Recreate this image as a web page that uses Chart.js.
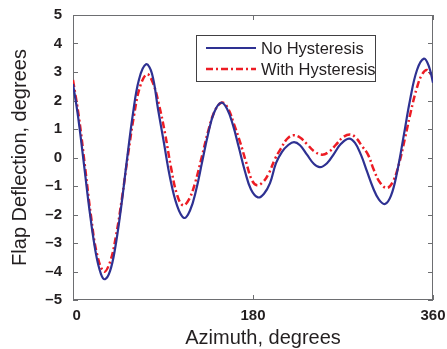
<!DOCTYPE html>
<html>
<head>
<meta charset="utf-8">
<script src="https://cdn.jsdelivr.net/npm/chart.js@4/dist/chart.umd.min.js"></script>
<style>
  html, body { margin: 0; padding: 0; background: #fff; }
  canvas { display: block; }
</style>
</head>
<body>
<canvas id="chart" width="447" height="349"></canvas>
<script>
// values
const noHystAz = [0, 5, 11, 17, 23, 28, 32, 37, 42, 48, 54, 60, 66, 73, 79, 85, 91, 97, 104, 111, 117, 123, 129, 135, 141, 148, 154, 160, 166, 172, 178, 185, 191, 197, 203, 209, 215, 221, 227, 234, 241, 247, 254, 261, 268, 276, 282, 288, 294, 300, 306, 312, 318, 324, 331, 337, 344, 351, 356, 360];
const noHystDefl = [2.58, 1.45, -0.25, -1.98, -3.39, -4.09, -4.27, -3.99, -3.21, -1.78, -0.07, 1.55, 2.74, 3.27, 2.94, 1.7, 0.5, -0.7, -1.68, -2.12, -1.86, -1.16, -0.18, 0.81, 1.57, 1.92, 1.71, 1.13, 0.33, -0.49, -1.12, -1.4, -1.27, -0.9, -0.2, 0.2, 0.43, 0.54, 0.43, 0.1, -0.23, -0.34, -0.2, 0.13, 0.48, 0.66, 0.51, 0.09, -0.49, -1.06, -1.48, -1.63, -1.34, -0.53, 0.82, 2.01, 3.07, 3.47, 3.19, 2.62];
const withHystAz = [0, 6, 12, 18, 24, 31, 37, 43, 49, 55, 61, 67, 74, 80, 86, 92, 98, 104, 110, 116, 122, 129, 135, 142, 149, 155, 161, 167, 173, 179, 184, 190, 196, 202, 208, 214, 220, 227, 234, 241, 249, 256, 263, 270, 277, 283, 289, 295, 301, 307, 314, 320, 326, 332, 338, 344, 349, 354, 360];
const withHystDefl = [2.72, 1.39, -0.32, -2.06, -3.39, -4.0, -3.67, -2.75, -1.42, 0.09, 1.47, 2.48, 2.92, 2.61, 1.85, 0.85, -0.35, -1.3, -1.68, -1.47, -0.9, 0.05, 0.9, 1.65, 1.93, 1.72, 1.17, 0.55, -0.15, -0.8, -0.97, -0.86, -0.54, -0.05, 0.32, 0.65, 0.78, 0.7, 0.47, 0.22, 0.1, 0.2, 0.45, 0.71, 0.81, 0.69, 0.4, 0.1, -0.45, -0.88, -1.07, -0.84, -0.22, 0.68, 1.64, 2.46, 2.91, 3.07, 2.8];
const seriesNames = ['No Hysteresis', 'With Hysteresis'];
const xTicks = [0, 180, 360];
const yTicks = [-5, -4, -3, -2, -1, 0, 1, 2, 3, 4, 5];

const toPoints = (xs, ys) => xs.map((x, i) => ({ x: x, y: ys[i] }));
const textColor = '#231f20';
const frameColor = '#6d6e71';
const labelFont = { family: '"Liberation Sans", Arial, sans-serif', size: 15, weight: 'bold' };

// box round the plot with inward tick marks on all sides
const framePlugin = {
  id: 'frame',
  beforeDatasetsDraw(chart) {
    const { ctx, chartArea: a, scales } = chart;
    const len = 5;
    ctx.save();
    ctx.strokeStyle = frameColor;
    ctx.lineWidth = 1;
    ctx.strokeRect(a.left + 0.5, a.top + 0.5, a.right - a.left - 1, a.bottom - a.top - 1);
    ctx.beginPath();
    xTicks.forEach(v => {
      const px = Math.round(scales.x.getPixelForValue(v)) + 0.5;
      ctx.moveTo(px, a.bottom); ctx.lineTo(px, a.bottom - len);
      ctx.moveTo(px, a.top); ctx.lineTo(px, a.top + len);
    });
    yTicks.forEach(v => {
      const py = Math.round(scales.y.getPixelForValue(v)) + 0.5;
      ctx.moveTo(a.left, py); ctx.lineTo(a.left + len, py);
      ctx.moveTo(a.right, py); ctx.lineTo(a.right - len, py);
    });
    ctx.stroke();
    ctx.restore();
  },
  afterDraw(chart) {
    // legend box inside the plot
    const { ctx } = chart;
    const bx = 196, by = 35, bw = 179, bh = 46;
    ctx.save();
    ctx.fillStyle = '#fff';
    ctx.fillRect(bx, by, bw, bh);
    ctx.strokeStyle = '#414042';
    ctx.lineWidth = 1;
    ctx.strokeRect(bx + 0.5, by + 0.5, bw, bh);
    ctx.font = '16.5px "Liberation Sans", Arial, sans-serif';
    ctx.textBaseline = 'middle';
    chart.data.datasets.forEach((ds, i) => {
      const y = 48 + i * 21;
      ctx.strokeStyle = ds.borderColor;
      ctx.lineWidth = ds.borderWidth;
      ctx.setLineDash(ds.borderDash || []);
      ctx.beginPath();
      ctx.moveTo(bx + 10, y);
      ctx.lineTo(bx + 60, y);
      ctx.stroke();
      ctx.setLineDash([]);
      ctx.fillStyle = textColor;
      ctx.fillText(ds.label, bx + 65, y + 1);
    });
    ctx.restore();
  }
};

new Chart(document.getElementById('chart'), {
  type: 'line',
  data: {
    datasets: [
      {
        label: seriesNames[0],
        data: toPoints(noHystAz, noHystDefl),
        borderColor: '#2e3192',
        borderWidth: 2.2,
        pointRadius: 0,
        tension: 0.4,
        fill: false,
      },
      {
        label: seriesNames[1],
        data: toPoints(withHystAz, withHystDefl),
        borderColor: '#ed1c24',
        borderWidth: 2.5,
        borderDash: [7, 3, 2, 3],
        pointRadius: 0,
        tension: 0.4,
        fill: false,
      },
    ],
  },
  options: {
    responsive: false,
    animation: false,
    layout: { padding: { left: 0, right: 14, top: 15, bottom: 0 } },
    plugins: {
      legend: { display: false },
      tooltip: { enabled: false },
    },
    scales: {
      x: {
        type: 'linear',
        min: 0,
        max: 360,
        afterBuildTicks: s => { s.ticks = xTicks.map(v => ({ value: v })); },
        afterFit: s => { s.height = 49; },
        grid: { display: false, drawTicks: true, tickLength: 7 },
        border: { display: false },
        ticks: {
          padding: 0,
          maxRotation: 0,
          color: textColor,
          font: labelFont,
          // the 0 sits a little right of the axis in the original
          callback: v => (v === 0 ? '\u20020' : String(v)),
        },
        title: {
          display: true,
          // leading spaces push the title right, as in the original
          text: '\u2002\u2002Azimuth, degrees',
          color: textColor,
          font: { family: '"Liberation Sans", Arial, sans-serif', size: 20, lineHeight: 1.1 },
          padding: { top: 0, bottom: 0 },
        },
      },
      y: {
        min: -5,
        max: 5,
        afterBuildTicks: s => { s.ticks = yTicks.map(v => ({ value: v })); },
        afterFit: s => { s.width = 73; },
        grid: { display: false, drawTicks: true, tickLength: 11 },
        border: { display: false },
        ticks: {
          padding: 0,
          color: textColor,
          font: labelFont,
          callback: v => (v < 0 ? '\u2013' + Math.abs(v) : String(v)),
        },
        title: {
          display: true,
          text: 'Flap Deflection, degrees',
          color: textColor,
          font: { family: '"Liberation Sans", Arial, sans-serif', size: 20 },
          padding: { top: 8, bottom: 0 },
        },
      },
    },
  },
  plugins: [framePlugin],
});
</script>
</body>
</html>
